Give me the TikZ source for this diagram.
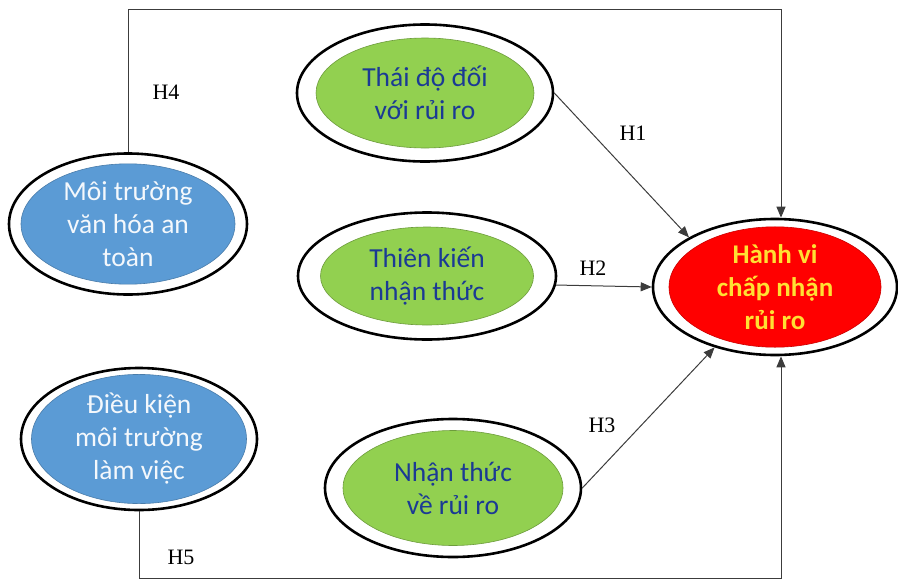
\documentclass[tikz,border=0pt]{standalone}
\usepackage{fontspec}
\setmainfont{Carlito}
\newfontfamily\hfont{Liberation Serif}
\usetikzlibrary{shapes.geometric,arrows.meta}

\definecolor{leaf}{HTML}{92D050}
\definecolor{sky}{HTML}{5B9BD5}
\definecolor{navy}{HTML}{1B3A94}
\definecolor{gold}{HTML}{FFE033}
\definecolor{wire}{HTML}{3C3C3C}

\tikzset{
    outer/.style={ellipse, draw=black, line width=2.6pt, fill=white, inner sep=0pt},
    inner/.style={ellipse, inner sep=0pt, align=center, line width=0.6pt,
        font=\fontsize{27.5}{33}\selectfont},
    factor/.style={inner, fill=leaf, draw=leaf!75!black, text=navy},
    context/.style={inner, fill=sky, draw=sky!80!black, text=white!93!sky},
    target/.style={inner, fill=red, draw=red!80!black, text=gold, font=\bfseries\fontsize{27}{33}\selectfont},
    hyp/.style={font=\hfont\fontsize{22}{24}\selectfont},
    link/.style={draw=wire, line width=1pt, -{Triangle[length=11pt,width=9pt]}}
}

\begin{document}
\begin{tikzpicture}[x=1pt,y=-1pt]
    \useasboundingbox (0,0) rectangle (898,579);
    % outer rings
    \foreach \nm/\x/\y/\w/\h in {moi/128/224/238/141, thai/425/93/256/137, thien/427/276/258/127,
        hanh/775/287/244/136, dieu/139/439/236/142, nhan/453/488/256/138}{
        \node[outer, minimum width=\w, minimum height=\h] (\nm) at (\x,\y) {};
    };
    % filled cores
    \node[context, minimum width=214, minimum height=118] (moi-in) at (moi) {Môi trường\\văn hóa an\\toàn};
    \node[factor, minimum width=218, minimum height=110] (thai-in) at (thai) {Thái độ đối\\với rủi ro};
    \node[factor, minimum width=213, minimum height=98] (thien-in) at (thien) {Thiên kiến\\nhận thức};
    \node[target, minimum width=212, minimum height=104] (hanh-in) at (hanh) {Hành vi\\chấp nhận\\rủi ro};
    \node[context, minimum width=215, minimum height=110] (dieu-in) at (dieu) {Điều kiện\\môi trường\\làm việc};
    \node[factor, minimum width=220, minimum height=115] (nhan-in) at (nhan) {Nhận thức\\về rủi ro};

    \coordinate (top) at (781,9);
    \coordinate (bot) at (781,578.6);

    \draw[link] (thai.east) -- (hanh.150);
    \draw[link] (thien.-4) -- (hanh.west);
    \draw[link] (nhan.east) -- (hanh.225);
    \draw[link] (moi.north) |- (top) -- (top |- hanh.north);
    \draw[link] (dieu.south) |- (bot) -- (bot |- hanh.south);

    \node[hyp] (h1) at (633,133) {H1};
    \node[hyp] (h2) at (593,268) {H2};
    \node[hyp] (h3) at (602,425) {H3};
    \node[hyp] (h4) at (166,92) {H4};
    \node[hyp] (h5) at (181,557) {H5};
\end{tikzpicture}
\end{document}
